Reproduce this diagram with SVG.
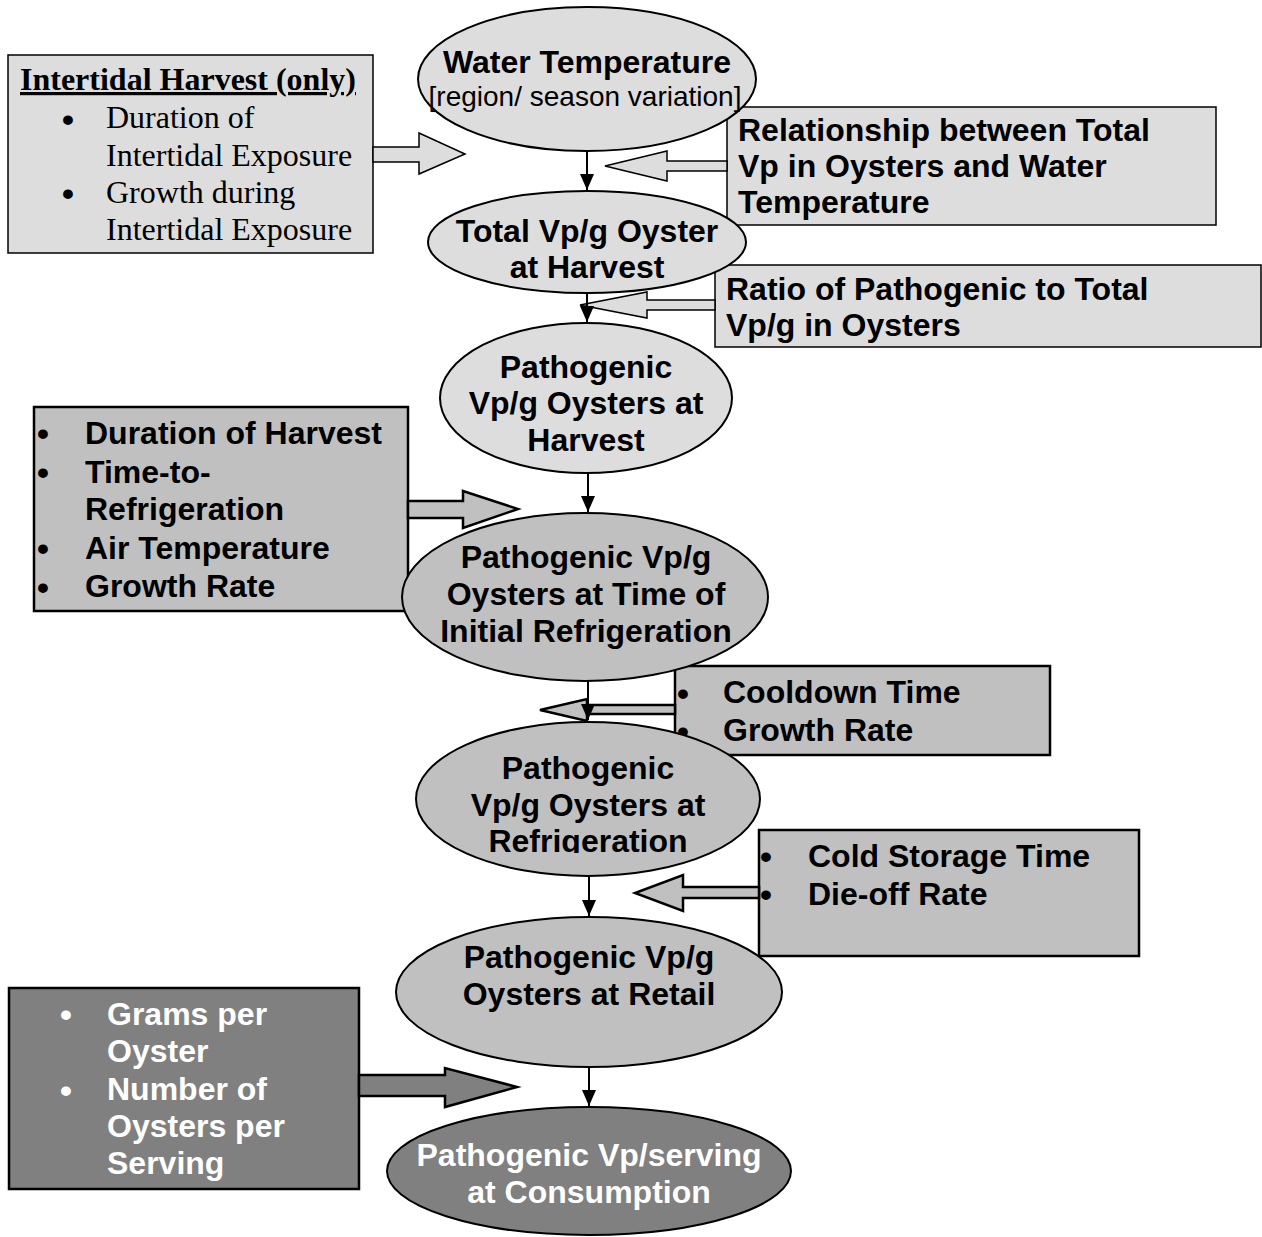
<svg xmlns="http://www.w3.org/2000/svg" width="1262" height="1237" viewBox="0 0 1262 1237">
<defs>
<style>
.lt{fill:#dddddd;stroke:#000;stroke-width:1.5}
.md{fill:#c0c0c0;stroke:#000;stroke-width:2.5}
.dk{fill:#808080;stroke:#000;stroke-width:2.5}
.el{stroke:#000;stroke-width:2}
.b{font-family:"Liberation Sans",Arial,sans-serif;font-weight:bold;font-size:32px;fill:#000}
.r{font-family:"Liberation Sans",Arial,sans-serif;font-size:28px;fill:#000}
.t{font-family:"Liberation Serif","Times New Roman",serif;font-size:32px;fill:#000}
.c{text-anchor:middle}
.w{fill:#fff}
.bul{font-family:"Liberation Sans",Arial,sans-serif;font-weight:bold;font-size:34px}
.conn{stroke:#000;stroke-width:2;fill:none;marker-end:url(#ah)}
</style>
<marker id="ah" markerUnits="userSpaceOnUse" markerWidth="16" markerHeight="16" viewBox="0 0 16 16" refX="16" refY="8" orient="auto">
<path d="M0,1 L16,8 L0,15 Z" fill="#000"/>
</marker>
<clipPath id="clip5"><rect x="400" y="700" width="380" height="153"/></clipPath>
</defs>

<g id="box-intertidal">
<rect class="lt" x="8" y="55" width="365" height="198"/>
<text class="t" x="20" y="90" font-weight="bold" text-decoration="underline">Intertidal Harvest (only)</text>
<text class="t"><tspan class="bul" x="62" y="131">•</tspan><tspan x="106" y="128">Duration of</tspan></text>
<text class="t" x="106" y="166">Intertidal Exposure</text>
<text class="t"><tspan class="bul" x="62" y="205">•</tspan><tspan x="106" y="203">Growth during</tspan></text>
<text class="t" x="106" y="240">Intertidal Exposure</text>
</g>

<g id="box-relationship">
<rect class="lt" x="727" y="107" width="489" height="118"/>
<text class="b" x="738" y="141">Relationship between Total</text>
<text class="b" x="738" y="177">Vp in Oysters and Water</text>
<text class="b" x="738" y="213">Temperature</text>
</g>

<g id="box-ratio">
<rect class="lt" x="715" y="265" width="546" height="82"/>
<text class="b" x="726" y="300">Ratio of Pathogenic to Total</text>
<text class="b" x="726" y="336">Vp/g in Oysters</text>
</g>

<g id="box-harvest-factors">
<rect class="md" x="34" y="407" width="374" height="204"/>
<text class="b"><tspan class="bul" x="37" y="445">•</tspan><tspan x="85" y="444">Duration of Harvest</tspan></text>
<text class="b"><tspan class="bul" x="37" y="484">•</tspan><tspan x="85" y="483">Time-to-</tspan></text>
<text class="b" x="85" y="520">Refrigeration</text>
<text class="b"><tspan class="bul" x="37" y="560">•</tspan><tspan x="85" y="559">Air Temperature</tspan></text>
<text class="b"><tspan class="bul" x="37" y="599">•</tspan><tspan x="85" y="597">Growth Rate</tspan></text>
</g>

<g id="box-cooldown">
<rect class="md" x="675" y="666" width="375" height="89"/>
<text class="b"><tspan class="bul" x="677" y="705">•</tspan><tspan x="723" y="703">Cooldown Time</tspan></text>
<text class="b"><tspan class="bul" x="677" y="743">•</tspan><tspan x="723" y="741">Growth Rate</tspan></text>
</g>

<g id="box-coldstorage">
<rect class="md" x="759" y="830" width="380" height="126"/>
<text class="b"><tspan class="bul" x="760" y="868">•</tspan><tspan x="808" y="867">Cold Storage Time</tspan></text>
<text class="b"><tspan class="bul" x="760" y="906">•</tspan><tspan x="808" y="905">Die-off Rate</tspan></text>
</g>

<g id="box-serving">
<rect class="dk" x="9" y="988" width="350" height="201"/>
<text class="b w"><tspan class="bul" x="60" y="1026">•</tspan><tspan x="107" y="1025">Grams per</tspan></text>
<text class="b w" x="107" y="1062">Oyster</text>
<text class="b w"><tspan class="bul" x="60" y="1102">•</tspan><tspan x="107" y="1100">Number of</tspan></text>
<text class="b w" x="107" y="1137">Oysters per</text>
<text class="b w" x="107" y="1174">Serving</text>
</g>

<g id="block-arrows">
<polygon class="lt" points="373,147 419,147 419,133 465,154 419,174 419,162 373,162"/>
<polygon class="lt" points="727,161 667,161 667,151 605,166 667,181 667,171 727,171"/>
<polygon class="lt" points="715,300 647,300 647,292 580,305 647,318 647,310 715,310"/>
<polygon class="md" stroke-width="2" points="408,501 463,501 463,491 518,509 463,528 463,518 408,518"/>
<polygon class="md" stroke-width="2" points="675,705 587,705 587,699 540,710 587,721 587,714 675,714"/>
<polygon class="md" stroke-width="2" points="759,887 683,887 683,875 635,893 683,911 683,898 759,898"/>
<polygon class="dk" stroke-width="2" points="359,1075 445,1075 445,1068 517,1087 445,1107 445,1096 359,1096"/>
</g>

<g id="node-water-temperature">
<ellipse class="el" fill="#dddddd" cx="587" cy="79" rx="169" ry="72"/>
<text class="b c" x="587" y="73">Water Temperature</text>
<text class="r c" x="585" y="106">[region/ season variation]</text>
</g>

<g id="node-total-vp">
<ellipse class="el" fill="#dddddd" cx="587" cy="242" rx="159" ry="51"/>
<text class="b c" x="587" y="242">Total Vp/g Oyster</text>
<text class="b c" x="587" y="278">at Harvest</text>
</g>

<g id="node-pathogenic-harvest">
<ellipse class="el" fill="#dddddd" cx="586" cy="398" rx="146" ry="75"/>
<text class="b c" x="586" y="378">Pathogenic</text>
<text class="b c" x="586" y="414">Vp/g Oysters at</text>
<text class="b c" x="586" y="451">Harvest</text>
</g>

<g id="node-initial-refrigeration">
<ellipse class="el" fill="#c0c0c0" cx="585" cy="597" rx="183" ry="84"/>
<text class="b c" x="586" y="568">Pathogenic Vp/g</text>
<text class="b c" x="586" y="605">Oysters at Time of</text>
<text class="b c" x="586" y="642">Initial Refrigeration</text>
</g>

<g id="node-refrigeration">
<ellipse class="el" fill="#c0c0c0" cx="588" cy="799" rx="172" ry="77"/>
<text class="b c" x="588" y="779">Pathogenic</text>
<text class="b c" x="588" y="816">Vp/g Oysters at</text>
<text class="b c" x="588" y="852" clip-path="url(#clip5)">Refrigeration</text>
</g>

<g id="node-retail">
<ellipse class="el" fill="#c0c0c0" cx="589" cy="992" rx="193" ry="75"/>
<text class="b c" x="589" y="968">Pathogenic Vp/g</text>
<text class="b c" x="589" y="1005">Oysters at Retail</text>
</g>

<g id="node-consumption">
<ellipse class="el" fill="#808080" cx="589" cy="1171" rx="202" ry="64"/>
<text class="b c w" x="589" y="1166">Pathogenic Vp/serving</text>
<text class="b c w" x="589" y="1203">at Consumption</text>
</g>

<g id="connectors">
<line class="conn" x1="587" y1="151" x2="587" y2="190"/>
<line class="conn" x1="587" y1="293" x2="587" y2="322"/>
<line class="conn" x1="588" y1="473" x2="588" y2="512"/>
<line class="conn" x1="588" y1="681" x2="588" y2="720"/>
<line class="conn" x1="589" y1="876" x2="589" y2="916"/>
<line class="conn" x1="589" y1="1067" x2="589" y2="1106"/>
</g>
</svg>
